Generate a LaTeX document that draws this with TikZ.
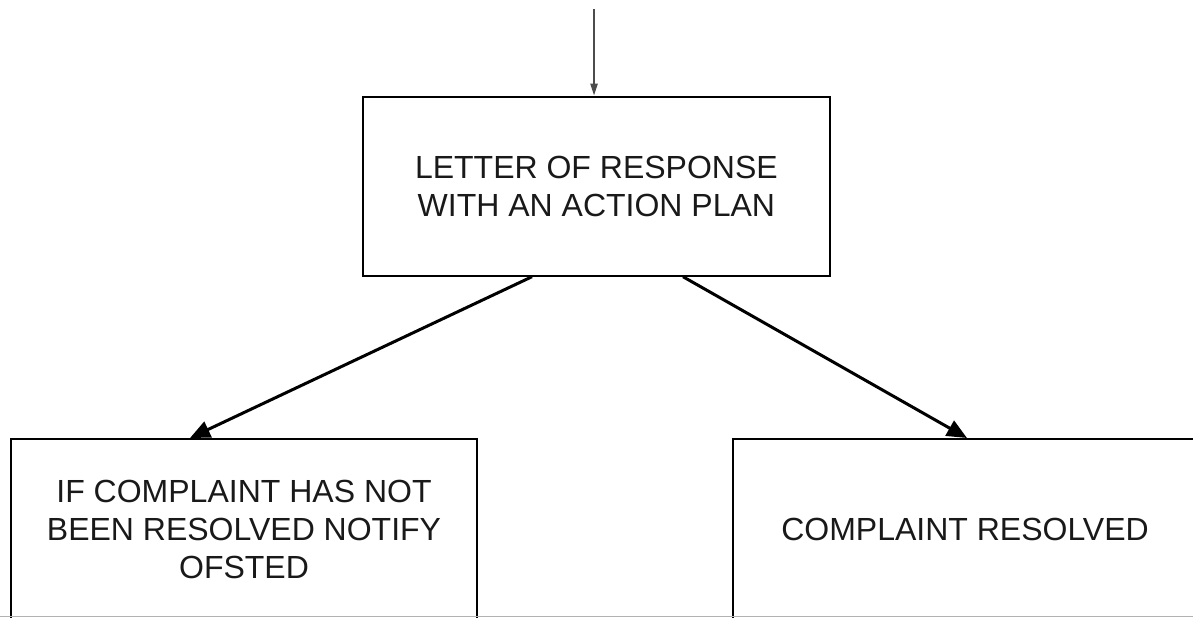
\documentclass[tikz,border=0pt]{standalone}
\usepackage{fontspec}
\setmainfont{Liberation Sans}
\usetikzlibrary{arrows.meta}
\begin{document}
\begin{tikzpicture}[x=0.5pt,y=-0.5pt,
  box/.style={draw,line width=1pt,inner sep=0pt,align=center,text=black!90,
    font=\fontsize{16}{19}\selectfont},
  link/.style={line width=1.5pt,-{Triangle[length=10pt,width=8.5pt]}},
  feed/.style={line width=1.1pt,draw=black!70,-{Triangle[length=6pt,width=3.5pt]}}]
\clip (0,0) rectangle (1193,617);

% Boxes
\node (letter) [box,minimum width=233.6pt,minimum height=89.5pt] at (596.4,186.2) {LETTER OF RESPONSE\\WITH AN ACTION PLAN};
\node (ofsted) [box,minimum width=233pt,minimum height=90pt] at (244,529) {IF COMPLAINT HAS NOT\\BEEN RESOLVED NOTIFY\\OFSTED};
\node (resolved) [box,minimum width=232pt,minimum height=90pt] at (965,529) {COMPLAINT RESOLVED};

% Incoming line
\coordinate (in) at (594,9);
\draw [feed] (in) -- (letter.north -| in);

% Arrows
\draw [link] (letter.south -| 532,0) -- (ofsted.north -| 190,0);
\draw [link] (letter.south -| 683,0) -- (resolved.north -| 967,0);

% bottom edge
\draw [line width=0.6pt,black!30] (0,616.4) -- (1193,616.4);

\end{tikzpicture}
\end{document}
